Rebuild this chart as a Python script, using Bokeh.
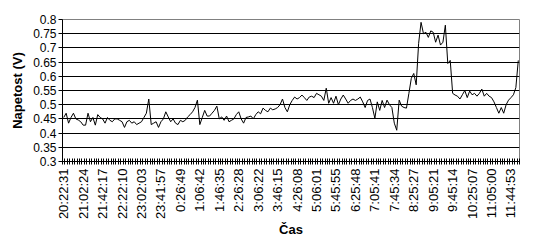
import math
from bokeh.plotting import figure
from bokeh.models import Range1d, FixedTicker
from bokeh.embed import file_html
from bokeh.resources import INLINE

# Measured voltage (V), one sample per category (~5 min apart)
voltage = [
    0.455, 0.47, 0.435, 0.455, 0.47, 0.45, 0.446, 0.44,
    0.428, 0.428, 0.47, 0.44, 0.455, 0.428, 0.465, 0.455,
    0.45, 0.435, 0.455, 0.445, 0.44, 0.45, 0.45, 0.445,
    0.44, 0.42, 0.44, 0.445, 0.435, 0.44, 0.43, 0.435,
    0.44, 0.455, 0.47, 0.52, 0.43, 0.435, 0.44, 0.42,
    0.44, 0.45, 0.475, 0.457, 0.44, 0.45, 0.435, 0.43,
    0.445, 0.44, 0.445, 0.457, 0.465, 0.475, 0.49, 0.516,
    0.43, 0.455, 0.48, 0.46, 0.46, 0.47, 0.48, 0.495,
    0.45, 0.457, 0.445, 0.46, 0.44, 0.445, 0.45, 0.465,
    0.475, 0.45, 0.435, 0.455, 0.457, 0.46, 0.45, 0.465,
    0.475, 0.468, 0.488, 0.48, 0.475, 0.488, 0.482, 0.485,
    0.49, 0.5, 0.52, 0.49, 0.475, 0.5, 0.515, 0.527,
    0.52, 0.525, 0.534, 0.525, 0.515, 0.527, 0.53, 0.525,
    0.54, 0.535, 0.53, 0.515, 0.558, 0.505, 0.525, 0.505,
    0.53, 0.5, 0.52, 0.534, 0.52, 0.505, 0.515, 0.52,
    0.515, 0.52, 0.527, 0.51, 0.49, 0.515, 0.52, 0.49,
    0.452, 0.51, 0.48, 0.515, 0.49, 0.516, 0.50, 0.49,
    0.435, 0.41, 0.516, 0.495, 0.49, 0.488, 0.54, 0.593,
    0.61, 0.57, 0.716, 0.79, 0.75, 0.755, 0.737, 0.76,
    0.755, 0.72, 0.745, 0.71, 0.72, 0.78, 0.645, 0.656,
    0.54, 0.534, 0.53, 0.52, 0.535, 0.55, 0.525, 0.548,
    0.535, 0.54, 0.53, 0.54, 0.555, 0.53, 0.54, 0.53,
    0.525, 0.51, 0.49, 0.47, 0.49, 0.47, 0.50, 0.516,
    0.525, 0.535, 0.56, 0.656,
]

time_labels = [
    "20:22:31", "21:02:24", "21:42:17", "22:22:10", "23:02:03", "23:41:57",
    "0:26:49", "1:06:42", "1:46:35", "2:26:28", "3:06:22", "3:46:15",
    "4:26:08", "5:06:01", "5:45:55", "6:25:48", "7:05:41", "7:45:34",
    "8:25:27", "9:05:21", "9:45:14", "10:25:07", "11:05:00", "11:44:53",
]
label_step = 8

y_ticks = [0.3, 0.35, 0.4, 0.45, 0.5, 0.55, 0.6, 0.65, 0.7, 0.75, 0.8]
y_tick_labels = ["0.3", "0.35", "0.4", "0.45", "0.5", "0.55", "0.6", "0.65", "0.7", "0.75", "0.8"]

FONT = "Liberation Sans"

n = len(voltage)
xs = list(range(n))

p = figure(width=537, height=244, output_backend="svg", toolbar_location=None,
           x_range=Range1d(-0.5, n - 0.5), y_range=Range1d(y_ticks[0], y_ticks[-1]),
           min_border_left=62, min_border_right=18, min_border_top=19, min_border_bottom=83)
p.background_fill_color = "white"
p.border_fill_color = "white"
p.outline_line_color = "#808080"
p.outline_line_width = 1

p.line(xs, voltage, line_color="black", line_width=1)

# grid
p.xgrid.grid_line_color = None
p.ygrid.ticker = FixedTicker(ticks=y_ticks[1:-1])
p.ygrid.grid_line_color = "black"
p.ygrid.grid_line_alpha = 1.0
p.ygrid.grid_line_width = 1

# x axis
label_idx = list(range(0, n, label_step))[:len(time_labels)]
xa = p.xaxis[0]
xa.ticker = FixedTicker(ticks=label_idx, minor_ticks=[i - 0.5 for i in range(n + 1)])
xa.major_label_overrides = {i: t for i, t in zip(label_idx, time_labels)}
xa.major_label_orientation = math.pi / 2
xa.major_tick_in = 0
xa.major_tick_out = 0
xa.minor_tick_in = 3
xa.minor_tick_out = 3
xa.minor_tick_line_color = "black"
xa.axis_line_color = "black"
xa.major_label_standoff = 4
xa.major_label_text_font = FONT
xa.major_label_text_font_size = "13px"
xa.major_label_text_color = "black"
xa.axis_label = "Čas"
xa.axis_label_text_font = FONT
xa.axis_label_text_font_size = "13px"
xa.axis_label_text_font_style = "bold"
xa.axis_label_text_color = "black"
xa.axis_label_standoff = 0

# y axis
ya = p.yaxis[0]
ya.ticker = FixedTicker(ticks=y_ticks)
ya.major_label_overrides = {t: s for t, s in zip(y_ticks, y_tick_labels)}
ya.major_tick_in = 0
ya.major_tick_out = 4
ya.major_tick_line_color = "black"
ya.minor_tick_line_color = None
ya.axis_line_color = "black"
ya.major_label_standoff = 2
ya.major_label_text_font = FONT
ya.major_label_text_font_size = "12px"
ya.major_label_text_color = "black"
ya.axis_label = "Napetost (V)"
ya.axis_label_text_font = FONT
ya.axis_label_text_font_size = "13px"
ya.axis_label_text_font_style = "bold"
ya.axis_label_text_color = "black"
ya.axis_label_standoff = 5

open("out.html", "w").write(file_html(p, INLINE))
